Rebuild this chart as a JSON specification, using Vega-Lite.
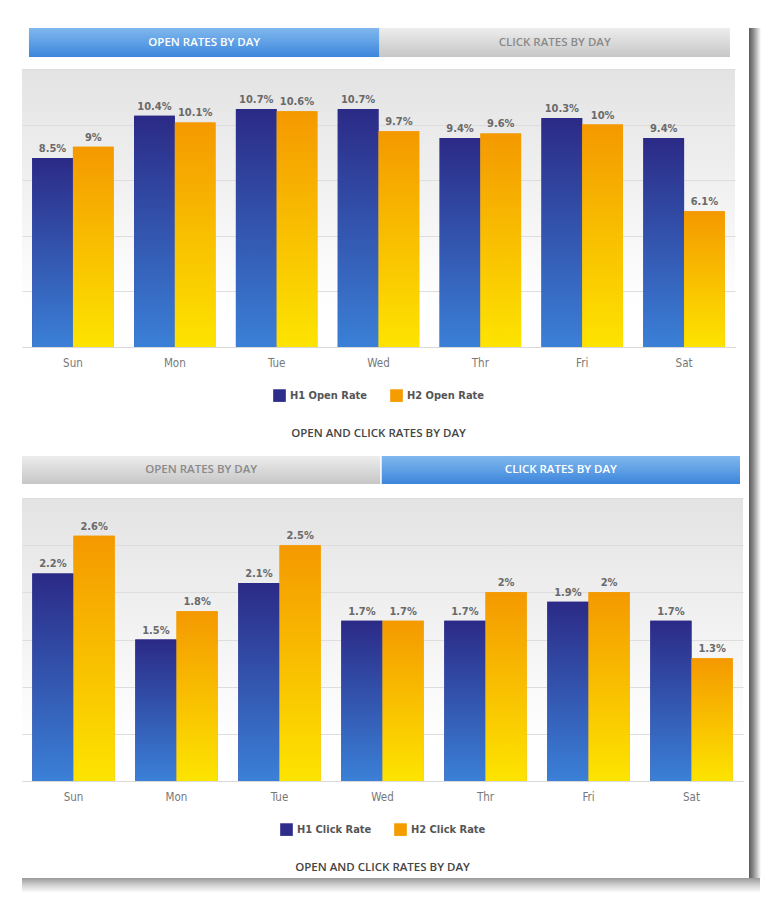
{
  "$schema": "https://vega.github.io/schema/vega-lite/v6.json",
  "background": "white",
  "padding": {"left": 22, "top": 28, "right": 0, "bottom": 0},
  "datasets": {
    "tabs1": [
      {"tab": "OPEN RATES BY DAY", "active": true},
      {"tab": "CLICK RATES BY DAY", "active": false}
    ],
    "tabs2": [
      {"tab": "OPEN RATES BY DAY", "active": false},
      {"tab": "CLICK RATES BY DAY", "active": true}
    ],
    "blank": [{"k": 1}],
    "open": [
      {"day": "Sun", "series": "H1 Open Rate", "value": 0.085},
      {"day": "Sun", "series": "H2 Open Rate", "value": 0.09},
      {"day": "Mon", "series": "H1 Open Rate", "value": 0.104},
      {"day": "Mon", "series": "H2 Open Rate", "value": 0.101},
      {"day": "Tue", "series": "H1 Open Rate", "value": 0.107},
      {"day": "Tue", "series": "H2 Open Rate", "value": 0.106},
      {"day": "Wed", "series": "H1 Open Rate", "value": 0.107},
      {"day": "Wed", "series": "H2 Open Rate", "value": 0.097},
      {"day": "Thr", "series": "H1 Open Rate", "value": 0.094},
      {"day": "Thr", "series": "H2 Open Rate", "value": 0.096},
      {"day": "Fri", "series": "H1 Open Rate", "value": 0.103},
      {"day": "Fri", "series": "H2 Open Rate", "value": 0.1},
      {"day": "Sat", "series": "H1 Open Rate", "value": 0.094},
      {"day": "Sat", "series": "H2 Open Rate", "value": 0.061}
    ],
    "click": [
      {"day": "Sun", "series": "H1 Click Rate", "value": 0.022},
      {"day": "Sun", "series": "H2 Click Rate", "value": 0.026},
      {"day": "Mon", "series": "H1 Click Rate", "value": 0.015},
      {"day": "Mon", "series": "H2 Click Rate", "value": 0.018},
      {"day": "Tue", "series": "H1 Click Rate", "value": 0.021},
      {"day": "Tue", "series": "H2 Click Rate", "value": 0.025},
      {"day": "Wed", "series": "H1 Click Rate", "value": 0.017},
      {"day": "Wed", "series": "H2 Click Rate", "value": 0.017},
      {"day": "Thr", "series": "H1 Click Rate", "value": 0.017},
      {"day": "Thr", "series": "H2 Click Rate", "value": 0.02},
      {"day": "Fri", "series": "H1 Click Rate", "value": 0.019},
      {"day": "Fri", "series": "H2 Click Rate", "value": 0.02},
      {"day": "Sat", "series": "H1 Click Rate", "value": 0.017},
      {"day": "Sat", "series": "H2 Click Rate", "value": 0.013}
    ]
  },
  "config": {
    "view": {"stroke": null},
    "font": "DejaVu Sans",
    "legend": {
      "orient": "bottom",
      "direction": "horizontal",
      "layout": {"bottom": {"anchor": "middle"}},
      "symbolType": "square",
      "symbolSize": 160,
      "symbolStrokeWidth": 0,
      "symbolOpacity": 1,
      "labelFont": "DejaVu Sans Condensed",
      "labelFontWeight": "bold",
      "labelFontSize": 11,
      "labelColor": "#555555",
      "columnPadding": 22,
      "offset": 20,
      "title": null
    },
    "title": {
      "orient": "bottom",
      "anchor": "middle",
      "font": "Open Sans",
      "fontSize": 11.5,
      "fontWeight": 600,
      "color": "#444444",
      "offset": 26
    }
  },
  "resolve": {"scale": {"color": "independent", "xOffset": "independent"}, "legend": {"color": "independent"}},
  "spacing": 0,
  "vconcat": [
    {
      "spacing": 6,
      "resolve": {"scale": {"color": "independent", "xOffset": "independent"}, "legend": {"color": "independent"}},
      "hconcat": [
        {
          "spacing": 16,
          "resolve": {"scale": {"color": "independent", "xOffset": "independent"}, "legend": {"color": "independent"}},
          "vconcat": [
            {
              "spacing": 12,
              "resolve": {"scale": {"color": "independent", "xOffset": "independent"}, "legend": {"color": "independent"}},
              "vconcat": [
                {
                  "width": 713,
                  "height": 29,
                  "data": {"name": "tabs1"},
                  "encoding": {
                    "x": {"field": "tab", "type": "nominal", "sort": null, "axis": null, "scale": {"paddingInner": 0, "paddingOuter": 0.01712, "align": 0.58}}
                  },
                  "layer": [
                    {
                      "mark": {"type": "rect"},
                      "encoding": {
                        "fill": {
                          "condition": {"test": "datum.active", "value": {"gradient": "linear", "x1": 0, "y1": 0, "x2": 0, "y2": 1, "stops": [{"offset": 0, "color": "#80b8ee"}, {"offset": 1, "color": "#3d86dc"}]}},
                          "value": {"gradient": "linear", "x1": 0, "y1": 0, "x2": 0, "y2": 1, "stops": [{"offset": 0, "color": "#ededed"}, {"offset": 1, "color": "#c6c6c6"}]}
                        }
                      }
                    },
                    {
                      "mark": {"type": "text", "font": "Open Sans", "fontWeight": 600, "fontSize": 11.5},
                      "encoding": {
                        "text": {"field": "tab"},
                        "color": {"condition": {"test": "datum.active", "value": "#ffffff"}, "value": "#8a8a8a"}
                      }
                    }
                  ]
                },
                {
                  "width": 713,
                  "height": 278,
                  "data": {"name": "open"},
                  "view": {"fill": {"gradient": "linear", "x1": 0, "y1": 0, "x2": 0, "y2": 1, "stops": [{"offset": 0, "color": "#e3e3e3"}, {"offset": 0.85, "color": "#ffffff"}]}, "stroke": null},
                  "title": {"text": "OPEN AND CLICK RATES BY DAY"},
                  "encoding": {
                    "x": {
                      "field": "day", "type": "nominal",
                      "sort": ["Sun", "Mon", "Tue", "Wed", "Thr", "Fri", "Sat"],
                      "scale": {"paddingInner": 0.2, "paddingOuter": 0.1},
                      "axis": {"title": null, "labelAngle": 0, "ticks": false, "tickSize": 0, "domain": true, "domainColor": "#d9d9d9", "labelFont": "DejaVu Sans Condensed", "labelFontSize": 11.5, "labelColor": "#777777", "labelPadding": 10}
                    },
                    "xOffset": {"field": "series", "type": "nominal", "scale": {"domain": ["H1 Open Rate", "H2 Open Rate"], "paddingInner": 0, "paddingOuter": 0}},
                    "y": {
                      "field": "value", "type": "quantitative",
                      "scale": {"domain": [0, 0.125], "nice": false},
                      "axis": {"title": null, "values": [0, 0.025, 0.05, 0.075, 0.1, 0.125], "grid": true, "gridColor": "#dddddd", "labels": false, "ticks": false, "domain": false}
                    }
                  },
                  "layer": [
                    {
                      "mark": {"type": "bar", "width": {"band": 1}},
                      "encoding": {
                        "color": {"field": "series", "type": "nominal", "scale": {"domain": ["H1 Open Rate", "H2 Open Rate"], "range": ["#2e2e8a", "#f59c00"]}}
                      }
                    },
                    {
                      "mark": {"type": "bar", "width": {"band": 1}},
                      "encoding": {
                        "fill": {
                          "condition": {"test": "indexof(datum.series, 'H1') === 0", "value": {"gradient": "linear", "x1": 0, "y1": 0, "x2": 0, "y2": 1, "stops": [{"offset": 0, "color": "#2b2a86"}, {"offset": 1, "color": "#3b80d7"}]}},
                          "value": {"gradient": "linear", "x1": 0, "y1": 0, "x2": 0, "y2": 1, "stops": [{"offset": 0, "color": "#f49900"}, {"offset": 1, "color": "#fde400"}]}
                        }
                      }
                    },
                    {
                      "mark": {"type": "text", "baseline": "bottom", "dy": -4, "font": "DejaVu Sans Condensed", "fontWeight": "bold", "fontSize": 11, "color": "#6a6a6a"},
                      "encoding": {
                        "text": {"field": "value", "type": "quantitative", "format": ".1~%"}
                      }
                    }
                  ]
                }
              ]
            },
            {
              "spacing": 14,
              "resolve": {"scale": {"color": "independent", "xOffset": "independent"}, "legend": {"color": "independent"}},
              "vconcat": [
                {
                  "width": 718,
                  "height": 28,
                  "data": {"name": "tabs2"},
                  "encoding": {
                    "x": {"field": "tab", "type": "nominal", "sort": null, "axis": null, "scale": {"paddingInner": 0.004, "paddingOuter": 0}}
                  },
                  "layer": [
                    {
                      "mark": {"type": "rect"},
                      "encoding": {
                        "fill": {
                          "condition": {"test": "datum.active", "value": {"gradient": "linear", "x1": 0, "y1": 0, "x2": 0, "y2": 1, "stops": [{"offset": 0, "color": "#80b8ee"}, {"offset": 1, "color": "#3d86dc"}]}},
                          "value": {"gradient": "linear", "x1": 0, "y1": 0, "x2": 0, "y2": 1, "stops": [{"offset": 0, "color": "#ededed"}, {"offset": 1, "color": "#c6c6c6"}]}
                        }
                      }
                    },
                    {
                      "mark": {"type": "text", "font": "Open Sans", "fontWeight": 600, "fontSize": 11.5},
                      "encoding": {
                        "text": {"field": "tab"},
                        "color": {"condition": {"test": "datum.active", "value": "#ffffff"}, "value": "#8a8a8a"}
                      }
                    }
                  ]
                },
                {
                  "width": 721,
                  "height": 283,
                  "data": {"name": "click"},
                  "view": {"fill": {"gradient": "linear", "x1": 0, "y1": 0, "x2": 0, "y2": 1, "stops": [{"offset": 0, "color": "#e3e3e3"}, {"offset": 0.85, "color": "#ffffff"}]}, "stroke": null},
                  "title": {"text": "OPEN AND CLICK RATES BY DAY"},
                  "encoding": {
                    "x": {
                      "field": "day", "type": "nominal",
                      "sort": ["Sun", "Mon", "Tue", "Wed", "Thr", "Fri", "Sat"],
                      "scale": {"paddingInner": 0.2, "paddingOuter": 0.1},
                      "axis": {"title": null, "labelAngle": 0, "ticks": false, "tickSize": 0, "domain": true, "domainColor": "#d9d9d9", "labelFont": "DejaVu Sans Condensed", "labelFontSize": 11.5, "labelColor": "#777777", "labelPadding": 10}
                    },
                    "xOffset": {"field": "series", "type": "nominal", "scale": {"domain": ["H1 Click Rate", "H2 Click Rate"], "paddingInner": 0, "paddingOuter": 0}},
                    "y": {
                      "field": "value", "type": "quantitative",
                      "scale": {"domain": [0, 0.03], "nice": false},
                      "axis": {"title": null, "values": [0, 0.005, 0.01, 0.015, 0.02, 0.025, 0.03], "grid": true, "gridColor": "#dddddd", "labels": false, "ticks": false, "domain": false}
                    }
                  },
                  "layer": [
                    {
                      "mark": {"type": "bar", "width": {"band": 1}},
                      "encoding": {
                        "color": {"field": "series", "type": "nominal", "scale": {"domain": ["H1 Click Rate", "H2 Click Rate"], "range": ["#2e2e8a", "#f59c00"]}}
                      }
                    },
                    {
                      "mark": {"type": "bar", "width": {"band": 1}},
                      "encoding": {
                        "fill": {
                          "condition": {"test": "indexof(datum.series, 'H1') === 0", "value": {"gradient": "linear", "x1": 0, "y1": 0, "x2": 0, "y2": 1, "stops": [{"offset": 0, "color": "#2b2a86"}, {"offset": 1, "color": "#3b80d7"}]}},
                          "value": {"gradient": "linear", "x1": 0, "y1": 0, "x2": 0, "y2": 1, "stops": [{"offset": 0, "color": "#f49900"}, {"offset": 1, "color": "#fde400"}]}
                        }
                      }
                    },
                    {
                      "mark": {"type": "text", "baseline": "bottom", "dy": -4, "font": "DejaVu Sans Condensed", "fontWeight": "bold", "fontSize": 11, "color": "#6a6a6a"},
                      "encoding": {
                        "text": {"field": "value", "type": "quantitative", "format": ".1~%"}
                      }
                    }
                  ]
                }
              ]
            }
          ]
        },
        {
          "width": 12,
          "height": 850,
          "data": {"name": "blank"},
          "view": {"fill": {"gradient": "linear", "x1": 0, "y1": 0, "x2": 1, "y2": 0, "stops": [{"offset": 0, "color": "#5a5a5a"}, {"offset": 0.35, "color": "#8a8a8a"}, {"offset": 1, "color": "#ffffff"}]}, "stroke": null},
          "mark": {"type": "point", "opacity": 0},
          "encoding": {}
        }
      ]
    },
    {
      "width": 738,
      "height": 15,
      "data": {"name": "blank"},
      "view": {"fill": {"gradient": "linear", "x1": 0, "y1": 0, "x2": 0, "y2": 1, "stops": [{"offset": 0, "color": "#999999"}, {"offset": 0.45, "color": "#cfcfcf"}, {"offset": 1, "color": "#ffffff"}]}, "stroke": null},
      "mark": {"type": "point", "opacity": 0},
      "encoding": {}
    }
  ]
}
